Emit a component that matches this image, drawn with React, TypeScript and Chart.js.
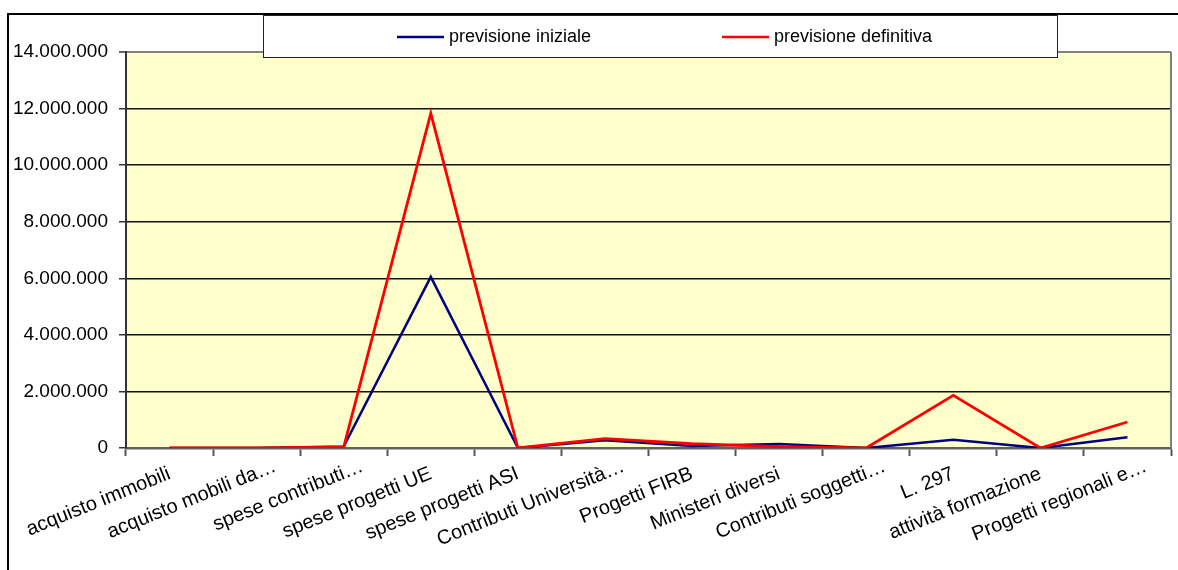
import React, { useEffect, useRef } from 'react';
import { Chart, registerables } from 'chart.js';

Chart.register(...registerables);

const categories = [
  'acquisto immobili',
  'acquisto mobili da…',
  'spese contributi…',
  'spese progetti UE',
  'spese progetti ASI',
  'Contributi Università…',
  'Progetti FIRB',
  'Ministeri diversi',
  'Contributi soggetti…',
  'L. 297',
  'attività formazione',
  'Progetti regionali e…',
];

const previsioneIniziale = [0, 0, 50000, 6050000, 0, 270000, 70000, 140000, 0, 290000, 0, 380000];
const previsioneDefinitiva = [0, 0, 30000, 11830000, 0, 330000, 150000, 50000, 0, 1860000, 0, 920000];

const seriesNames = ['previsione iniziale', 'previsione definitiva'];
const seriesColors = ['#000080', '#FF0000'];

const yMin = 0;
const yMax = 14000000;
const yStep = 2000000;

const FONT = '"Liberation Sans", Arial, sans-serif';
const LABEL_ROTATION = 22;

function fmt(v: number): string {
  return Math.round(v).toString().replace(/\B(?=(\d{3})+(?!\d))/g, '.');
}

const framePlugin = {
  id: 'frame',
  beforeDraw(chart: any) {
    const { ctx, chartArea: a } = chart;
    // truncated labels (ending with an ellipsis) sit a bit further along their baseline
    const xs = chart.scales.x;
    if (xs && xs.getLabelItems) {
      const items = xs.getLabelItems(a);
      const th = (LABEL_ROTATION * Math.PI) / 180;
      const d = 20;
      for (const it of items) {
        if (it.__shifted) continue;
        const lbl = String(it.label);
        if (lbl.endsWith('…')) {
          it.options.translation[0] += d * Math.cos(th);
          it.options.translation[1] -= d * Math.sin(th);
        }
        it.__shifted = true;
      }
    }
    ctx.save();
    ctx.fillStyle = '#ffffff';
    ctx.fillRect(0, 0, chart.width, chart.height);
    ctx.fillStyle = '#FFFFCC';
    ctx.fillRect(a.left, a.top, a.right - a.left, a.bottom - a.top);
    ctx.strokeStyle = '#000000';
    ctx.lineWidth = 2;
    ctx.beginPath();
    ctx.moveTo(8, chart.height);
    ctx.lineTo(8, 14);
    ctx.lineTo(chart.width, 14);
    ctx.stroke();
    ctx.restore();
  },
  afterDraw(chart: any) {
    const { ctx, chartArea: a } = chart;
    ctx.save();
    ctx.strokeStyle = '#808080';
    ctx.lineWidth = 2;
    ctx.beginPath();
    ctx.moveTo(a.right, a.top);
    ctx.lineTo(a.right, a.bottom);
    ctx.stroke();
    const bx = 263, by = 15, bw = 794, bh = 42;
    ctx.fillStyle = '#ffffff';
    ctx.fillRect(bx, by, bw, bh);
    ctx.strokeStyle = '#222222';
    ctx.lineWidth = 1;
    ctx.strokeRect(bx + 0.5, by + 0.5, bw, bh);
    const items = [
      { x: 397, name: seriesNames[0], color: seriesColors[0] },
      { x: 722, name: seriesNames[1], color: seriesColors[1] },
    ];
    const ly = 37;
    ctx.font = `18px ${FONT}`;
    ctx.textBaseline = 'middle';
    ctx.textAlign = 'left';
    for (const it of items) {
      ctx.strokeStyle = it.color;
      ctx.lineWidth = 2.5;
      ctx.beginPath();
      ctx.moveTo(it.x, ly);
      ctx.lineTo(it.x + 47, ly);
      ctx.stroke();
      ctx.fillStyle = '#000000';
      ctx.fillText(it.name, it.x + 52, ly);
    }
    ctx.restore();
  },
};

export default function App() {
  const ref = useRef<HTMLCanvasElement | null>(null);

  useEffect(() => {
    const canvas = ref.current;
    if (!canvas) return;
    const chart = new Chart(canvas, {
      type: 'line',
      data: {
        labels: categories,
        datasets: [
          {
            label: seriesNames[0],
            data: previsioneIniziale,
            borderColor: seriesColors[0],
            backgroundColor: seriesColors[0],
            borderWidth: 2.5,
            pointRadius: 0,
            tension: 0,
            order: 2,
          },
          {
            label: seriesNames[1],
            data: previsioneDefinitiva,
            borderColor: seriesColors[1],
            backgroundColor: seriesColors[1],
            borderWidth: 2.8,
            pointRadius: 0,
            tension: 0,
            order: 1,
          },
        ],
      },
      options: {
        responsive: false,
        animation: false,
        layout: { padding: { top: 52, right: 7, left: 0, bottom: 0 } },
        plugins: {
          legend: { display: false },
          tooltip: { enabled: false },
        },
        scales: {
          x: {
            offset: true,
            grid: {
              offset: true,
              drawOnChartArea: false,
              drawTicks: true,
              tickLength: 8,
              tickColor: '#555555',
              tickWidth: 2,
            },
            border: { color: '#606060', width: 2.5 },
            ticks: {
              autoSkip: false,
              minRotation: LABEL_ROTATION,
              maxRotation: LABEL_ROTATION,
              padding: 6,
              color: '#000000',
              font: { family: FONT, size: 20 },
            },
            afterFit(scale: any) {
              scale.height = 122;
            },
          },
          y: {
            min: yMin,
            max: yMax,
            grid: {
              color: (c: any) => (c.tick && c.tick.value === yMax ? '#808080' : '#111111'),
              lineWidth: (c: any) => (c.tick && c.tick.value === yMax ? 2 : 1.5),
              tickLength: 7,
              tickColor: '#333333',
              tickWidth: 1.5,
            },
            border: { color: '#333333', width: 2 },
            ticks: {
              stepSize: yStep,
              padding: 11,
              color: '#000000',
              font: { family: FONT, size: 19 },
              callback: (v: any) => fmt(Number(v)),
            },
            afterFit(scale: any) {
              scale.width = 126;
            },
          },
        },
      },
      plugins: [framePlugin],
    });
    return () => chart.destroy();
  }, []);

  return (
    <div style={{ position: 'fixed', left: 0, top: 0, width: 1178, height: 570 }}>
      <canvas ref={ref} width={1178} height={570} style={{ display: 'block' }} />
    </div>
  );
}
